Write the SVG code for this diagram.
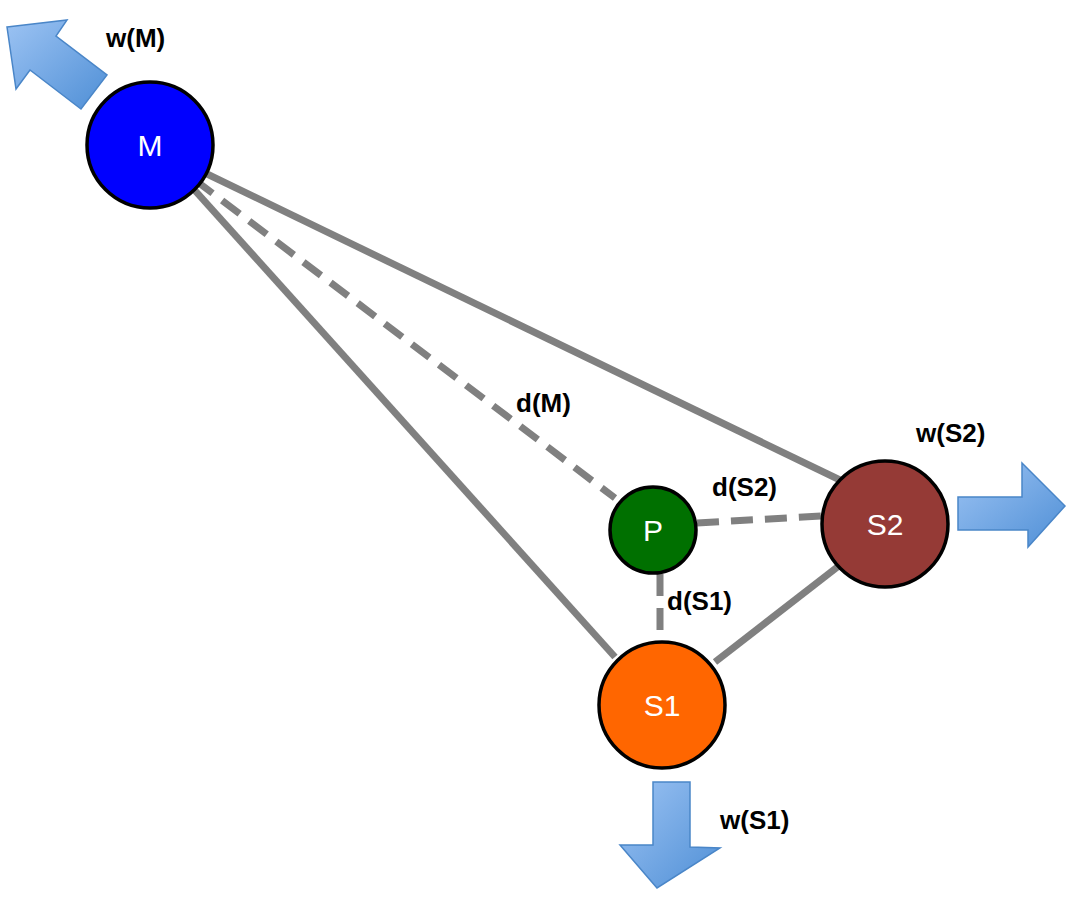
<svg xmlns="http://www.w3.org/2000/svg" width="1074" height="901" viewBox="0 0 1074 901">
<defs>
<linearGradient id="g" x1="0" y1="0" x2="1" y2="1"><stop offset="0" stop-color="#9cc3f3"/><stop offset="1" stop-color="#4f8fd6"/></linearGradient>
<style>
.c{stroke:#000;stroke-width:3.5}
.l{stroke:#808080;stroke-width:7;fill:none}
.d{stroke-dasharray:22 12}
.a{fill:url(#g);stroke:#4a86c8;stroke-width:1.5}
.t{font-family:"Liberation Sans",Arial,sans-serif;font-size:30px;fill:#fff;text-anchor:middle}
.b{font-family:"Liberation Sans",Arial,sans-serif;font-size:26px;font-weight:bold;fill:#000}
</style>
</defs>
<g id="connectors">
<line class="l" x1="205" y1="173" x2="840" y2="480"/>
<line class="l" x1="190" y1="185" x2="615" y2="657"/>
<line class="l d" x1="195" y1="180" x2="615" y2="498"/>
<line class="l d" x1="697" y1="523" x2="822" y2="516"/>
<line class="l d" x1="660" y1="574" x2="660" y2="640"/>
<line class="l" x1="715" y1="662" x2="840" y2="565"/>
</g>
<g id="arrows">
<polygon class="a" points="7,27 67,20 56,36 107,75 81,109 30,70 16,89"/>
<polygon class="a" points="958,497 1022,497 1022,463 1065,506 1028,547 1028,530 958,530"/>
<polygon class="a" points="653,782 690,782 690,847 720,848 657,888 620,845 653,845"/>
</g>
<g id="M"><circle class="c" cx="150" cy="145" r="63" fill="#0000ff"/><text class="t" x="150" y="156">M</text></g>
<g id="P"><circle class="c" cx="653" cy="530" r="43" fill="#007000"/><text class="t" x="653" y="541">P</text></g>
<g id="S2"><circle class="c" cx="885" cy="524" r="63" fill="#953a36"/><text class="t" x="885" y="535">S2</text></g>
<g id="S1"><circle class="c" cx="662" cy="705" r="63" fill="#ff6600"/><text class="t" x="662" y="716">S1</text></g>
<g id="labels">
<text class="b" x="106" y="47">w(M)</text>
<text class="b" x="916" y="442">w(S2)</text>
<text class="b" x="720" y="829">w(S1)</text>
<text class="b" x="516" y="412">d(M)</text>
<text class="b" x="712" y="496">d(S2)</text>
<text class="b" x="667" y="610">d(S1)</text>
</g>
</svg>
